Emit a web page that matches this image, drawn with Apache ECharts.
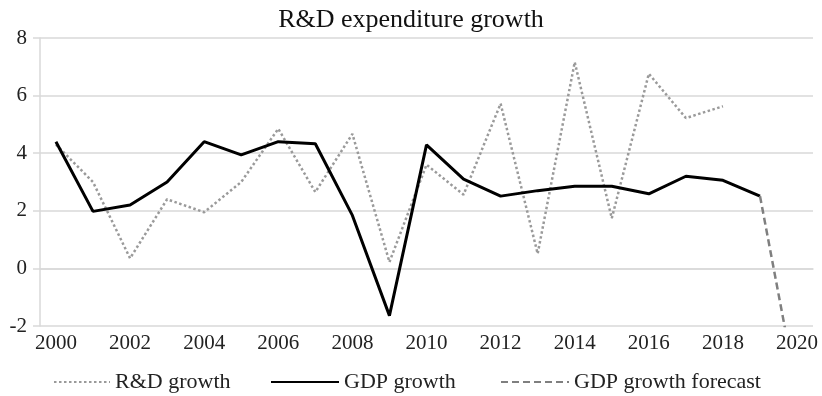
<!DOCTYPE html>
<html>
<head>
<meta charset="utf-8">
<script src="https://cdn.jsdelivr.net/npm/echarts@6/dist/echarts.min.js"></script>
<style>html,body{margin:0;padding:0;background:#fff;}#c{width:822px;height:396px;}</style>
</head>
<body>
<div id="c"></div>
<script>
const years = [2000,2001,2002,2003,2004,2005,2006,2007,2008,2009,2010,2011,2012,2013,2014,2015,2016,2017,2018,2019,2020];
const rdGrowth = [4.3,3.0,0.35,2.4,1.95,3.0,4.85,2.65,4.67,0.22,3.6,2.56,5.72,0.51,7.16,1.74,6.76,5.22,5.63,null,null];
const gdpGrowth = [4.4,1.98,2.2,3.0,4.4,3.94,4.4,4.33,1.84,-1.64,4.29,3.1,2.51,2.7,2.85,2.85,2.59,3.2,3.06,2.51,null];
const gdpForecast = [null,null,null,null,null,null,null,null,null,null,null,null,null,null,null,null,null,null,null,2.51,-4.3];
const xTicks = [2000,2002,2004,2006,2008,2010,2012,2014,2016,2018,2020];
const yTicks = [-2,0,2,4,6,8];

const pair = arr => years.map((y,i)=> arr[i]==null ? null : [y, arr[i]]).filter(d=>d);
const FONT = '"Liberation Serif","Times New Roman",serif';
const chart = echarts.init(document.getElementById('c'), null, {renderer:'canvas'});
const legendBase = {
  top: 371, itemHeight: 14, itemGap: 0, padding: 0,
  itemStyle: {opacity: 0},
  textStyle: {fontFamily: FONT, fontSize: 22, color: '#222'},
  selectedMode: false
};
chart.setOption({
  animation: false,
  backgroundColor: '#fff',
  title: {
    text: 'R&D expenditure growth', left: 'center', top: 2,
    textStyle: {fontFamily: FONT, fontSize: 26, fontWeight: 'normal', color: '#111'}
  },
  legend: [
    Object.assign({}, legendBase, {left: 53, itemWidth: 56, data: ['R&D growth']}),
    Object.assign({}, legendBase, {left: 270, itemWidth: 68, data: ['GDP growth']}),
    Object.assign({}, legendBase, {left: 500, itemWidth: 68, data: ['GDP growth forecast']})
  ],
  grid: {left: 40, right: 9, top: 38, bottom: 70, containLabel: false},
  xAxis: {
    type: 'value', min: 1999.57, max: 2020.43,
    splitLine: {show: false},
    axisLine: {show: true, lineStyle: {color: '#d9d9d9', width: 1.5}},
    axisTick: {show: false},
    axisLabel: {customValues: xTicks, fontFamily: FONT, fontSize: 21, color: '#222', margin: 7, formatter: v => String(v)}
  },
  yAxis: {
    type: 'value', min: -2, max: 8, interval: 2,
    axisLine: {show: true, lineStyle: {color: '#d9d9d9', width: 1.5}},
    axisTick: {show: true, length: 7, lineStyle: {color: '#d9d9d9', width: 1.5}},
    splitLine: {show: true, lineStyle: {color: '#d9d9d9', width: 1.5}},
    axisLabel: {fontFamily: FONT, fontSize: 21, color: '#222', margin: 13}
  },
  series: [
    {name: 'R&D growth', type: 'line', data: pair(rdGrowth), symbol: 'none',
     lineStyle: {color: '#9a9a9a', width: 2.5, type: [2.5, 2.5]}, itemStyle: {color: '#9a9a9a'}, clip: true},
    {name: 'GDP growth', type: 'line', data: pair(gdpGrowth), symbol: 'none',
     lineStyle: {color: '#000', width: 3}, itemStyle: {color: '#000'}, clip: true, z: 3},
    {name: 'GDP growth forecast', type: 'line', data: pair(gdpForecast), symbol: 'none',
     lineStyle: {color: '#7f7f7f', width: 2.5, type: [7, 4]}, itemStyle: {color: '#7f7f7f'}, clip: true}
  ]
});
</script>
</body>
</html>
